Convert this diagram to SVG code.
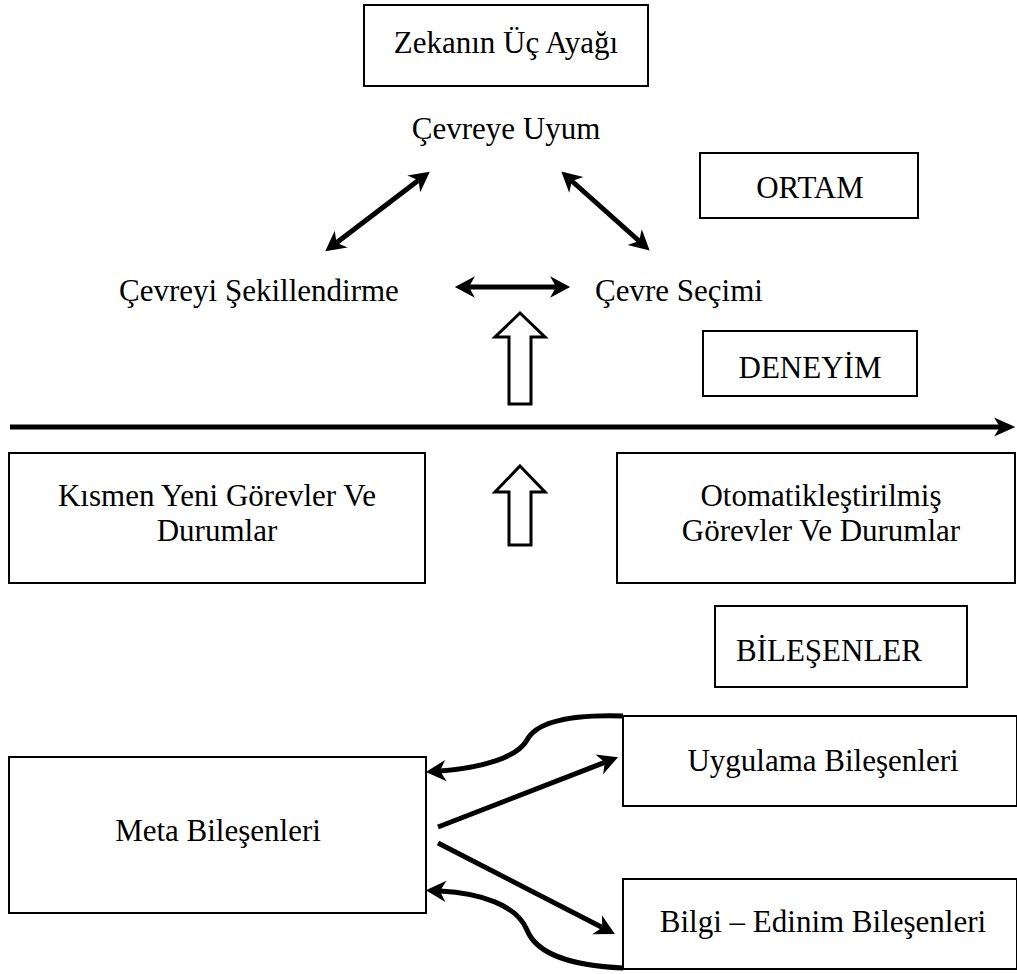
<svg xmlns="http://www.w3.org/2000/svg" width="1017" height="974" viewBox="0 0 1017 974">
  <style>
    .box { fill: #ffffff; stroke: #000000; stroke-width: 2; }
    .lbl { font-family: "Liberation Serif", "Times New Roman", serif; font-size: 31px; fill: #000000; text-anchor: middle; }
    .conn { fill: none; stroke: #000000; stroke-width: 5; }
    .hollow { fill: #ffffff; stroke: #000000; stroke-width: 3; stroke-linejoin: miter; }
  </style>
  <defs>
    <marker id="barb" markerUnits="userSpaceOnUse" markerWidth="26" markerHeight="26" viewBox="-2 -11 22 22" refX="5" refY="0" orient="auto-start-reverse">
      <path d="M0,-9 L17,0 L0,9 L5,0 Z" fill="#000000"/>
    </marker>
    <marker id="barbBig" markerUnits="userSpaceOnUse" markerWidth="26" markerHeight="26" viewBox="-2 -10 22 20" refX="5" refY="0" orient="auto">
      <path d="M0,-8 L18,0 L0,8 L5,0 Z" fill="#000000"/>
    </marker>
  </defs>

  <rect width="1017" height="974" fill="#ffffff"/>

  <g id="node-zeka">
    <rect class="box" x="364" y="5" width="284" height="81"/>
    <text class="lbl" x="506" y="53">Zekanın Üç Ayağı</text>
  </g>
  <g id="node-cevreye-uyum">
    <text class="lbl" x="506" y="139">Çevreye Uyum</text>
  </g>
  <g id="node-ortam">
    <rect class="box" x="700" y="153" width="218" height="65"/>
    <text class="lbl" x="810" y="198">ORTAM</text>
  </g>
  <g id="node-sekillendirme">
    <text class="lbl" x="259" y="301">Çevreyi Şekillendirme</text>
  </g>
  <g id="node-secim">
    <text class="lbl" x="679" y="301">Çevre Seçimi</text>
  </g>
  <g id="node-deneyim">
    <rect class="box" x="703" y="331" width="214" height="65"/>
    <text class="lbl" x="810" y="378">DENEYİM</text>
  </g>
  <g id="node-kismen">
    <rect class="box" x="9" y="453" width="416" height="130"/>
    <text class="lbl" x="217" y="506">Kısmen Yeni Görevler Ve</text>
    <text class="lbl" x="217" y="541">Durumlar</text>
  </g>
  <g id="node-otomatik">
    <rect class="box" x="617" y="453" width="398" height="130"/>
    <text class="lbl" x="821" y="506">Otomatikleştirilmiş</text>
    <text class="lbl" x="821" y="541">Görevler Ve Durumlar</text>
  </g>
  <g id="node-bilesenler">
    <rect class="box" x="715" y="606" width="252" height="81"/>
    <text class="lbl" x="829" y="661">BİLEŞENLER</text>
  </g>
  <g id="node-meta">
    <rect class="box" x="9" y="757" width="417" height="156"/>
    <text class="lbl" x="218" y="841">Meta Bileşenleri</text>
  </g>
  <g id="node-uygulama">
    <rect class="box" x="623" y="716" width="394" height="90"/>
    <text class="lbl" x="823" y="771">Uygulama Bileşenleri</text>
  </g>
  <g id="node-bilgi">
    <rect class="box" x="623" y="879" width="394" height="90"/>
    <text class="lbl" x="823" y="932">Bilgi – Edinim Bileşenleri</text>
  </g>

  <g id="connectors">
    <!-- triangle of two-way arrows -->
    <line class="conn" x1="418.5" y1="180.3" x2="336.5" y2="242.7" marker-start="url(#barb)" marker-end="url(#barb)"/>
    <line class="conn" x1="571.9" y1="181" x2="639.1" y2="241" marker-start="url(#barb)" marker-end="url(#barb)"/>
    <line class="conn" x1="469" y1="287" x2="556" y2="287" marker-start="url(#barb)" marker-end="url(#barb)"/>

    <!-- hollow block arrows -->
    <path class="hollow" d="M520,313 L545,337 L531,337 L531,404 L509,404 L509,337 L495,337 Z"/>
    <path class="hollow" d="M520,466 L545,492 L531,492 L531,545 L509,545 L509,492 L495,492 Z"/>

    <!-- experience axis -->
    <line class="conn" x1="10" y1="427" x2="1000" y2="427" stroke-width="6" marker-end="url(#barbBig)"/>

    <!-- components -->
    <line class="conn" x1="438" y1="827" x2="604.8" y2="762.3" marker-end="url(#barb)"/>
    <line class="conn" x1="438" y1="843" x2="602.3" y2="927.5" marker-end="url(#barb)"/>
    <path class="conn" d="M623,716 C560,714 535,725 527,740 C517,758 480,768 440,771" marker-end="url(#barb)"/>
    <path class="conn" d="M623,968 C560,965 535,950 527,930 C517,905 480,893 440,891" marker-end="url(#barb)"/>
  </g>
</svg>
